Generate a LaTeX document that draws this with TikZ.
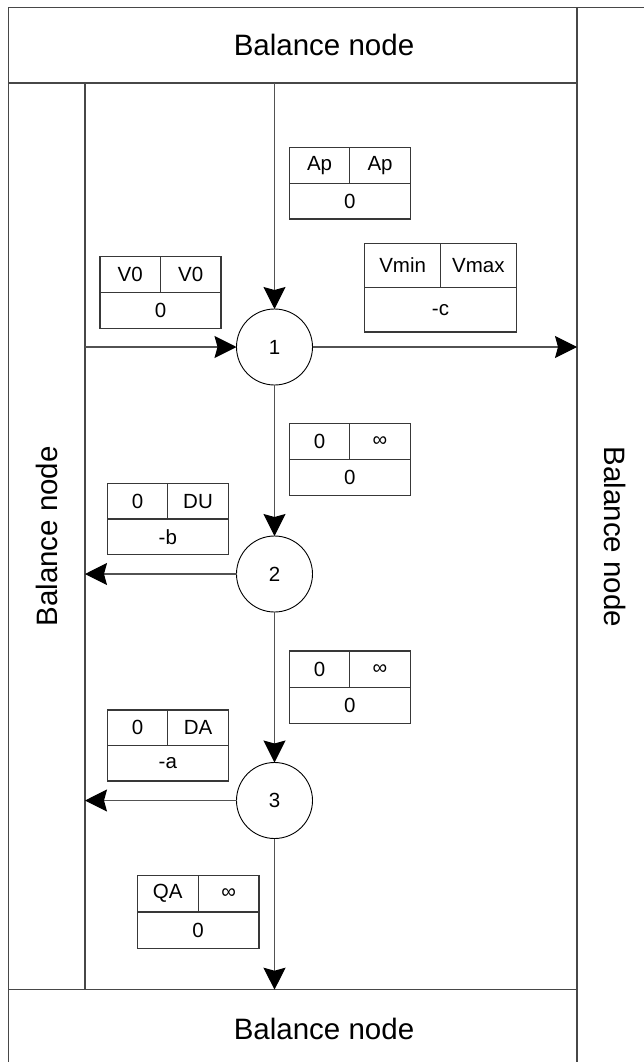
\documentclass[tikz,border=0pt]{standalone}
\usepackage{fontspec}
\setmainfont{Liberation Sans}
\usetikzlibrary{arrows.meta,calc}
\newcommand\tabbox[8]{%
  \node[tab, minimum width=#4, minimum height=#5, anchor=north west] (#1) at (#2,#3) {};
  \draw[tabline] (#1.west) -- (#1.east);
  \draw[tabline] (#1.north) -- (#1.center);
  \node[lbl] (#1-a) at ($(#1.north west)!0.5!(#1.center)$) {#6};
  \node[lbl] (#1-b) at ($(#1.north east)!0.5!(#1.center)$) {#7};
  \node[lbl] (#1-c) at ($(#1.south)!0.5!(#1.center)$) {#8};
}
\begin{document}
\begin{tikzpicture}[x=1pt,y=-1pt,
  region/.style={draw=black!72, line width=1.2pt, inner sep=0pt, outer sep=0pt},
  bigtext/.style={inner sep=0pt, font=\fontsize{29.5}{32}\selectfont},
  tab/.style={draw=black!78, line width=1.1pt, inner sep=0pt, outer sep=0pt},
  tabline/.style={draw=black!78, line width=1.1pt},
  lbl/.style={inner sep=0pt, font=\fontsize{20.5}{24}\selectfont},
  circ/.style={circle, draw=black, line width=0.9pt, minimum size=76pt, inner sep=0pt,
    outer sep=0pt, font=\fontsize{20.5}{24}\selectfont},
  conn/.style={draw=black!68, line width=1.1pt,
    -{Stealth[length=22pt, width=22pt, inset=3pt, color=black]}}
]
\useasboundingbox (0,0) rectangle (643,1062);
% regions
\node[region, minimum width=568.3, minimum height=75.7, anchor=north west] (top) at (8.7,7.3) {};
\node[bigtext] (toptext) at (324,45) {Balance node};
\node[region, minimum width=76.3, minimum height=906.7, anchor=north west] (left) at (8.7,83) {};
\node[bigtext, rotate=90] (lefttext) at (left.center) {Balance node};
\node[region, minimum width=568.3, minimum height=78.3, anchor=north west] (bottom) at (8.7,989.7) {};
\node[bigtext] (bottomtext) at (324,1029) {Balance node};
\node[region, minimum width=76, minimum height=1060.7, anchor=north west] (right) at (577,7.3) {};
\node[bigtext, rotate=-90] (righttext) at (615,537) {Balance node};
% flow nodes
\node[circ] (n1) at (274.5,347) {1};
\node[circ] (n2) at (274.5,574) {2};
\node[circ] (n3) at (274.5,800.5) {3};
% connectors
\draw[conn] (n1 |- top.south) -- (n1.north);
\draw[conn] (n1 -| left.east) -- (n1.west);
\draw[conn] (n1.east) -- (n1 -| right.west);
\draw[conn] (n1.south) -- (n2.north);
\draw[conn] (n2.west) -- (n2 -| left.east);
\draw[conn] (n2.south) -- (n3.north);
\draw[conn] (n3.west) -- (n3 -| left.east);
\draw[conn] (n3.south) -- (n3 |- bottom.north);
% capacity boxes
\tabbox{bAp}{289.3}{147.7}{121}{71.3}{Ap}{Ap}{0}
\tabbox{bV0}{100}{256.7}{121}{71.6}{V0}{V0}{0}
\tabbox{bVm}{364.7}{243.3}{151.6}{88.7}{Vmin}{Vmax}{-c}
\tabbox{bI1}{289.3}{423.3}{121}{72}{0}{∞}{0}
\tabbox{bDU}{107.3}{483.3}{121}{71.4}{0}{DU}{-b}
\tabbox{bI2}{289.3}{651}{121}{72.3}{0}{∞}{0}
\tabbox{bDA}{107.3}{710}{121}{71}{0}{DA}{-a}
\tabbox{bQA}{137.3}{875.3}{121.7}{73.4}{QA}{∞}{0}
\end{tikzpicture}
\end{document}
